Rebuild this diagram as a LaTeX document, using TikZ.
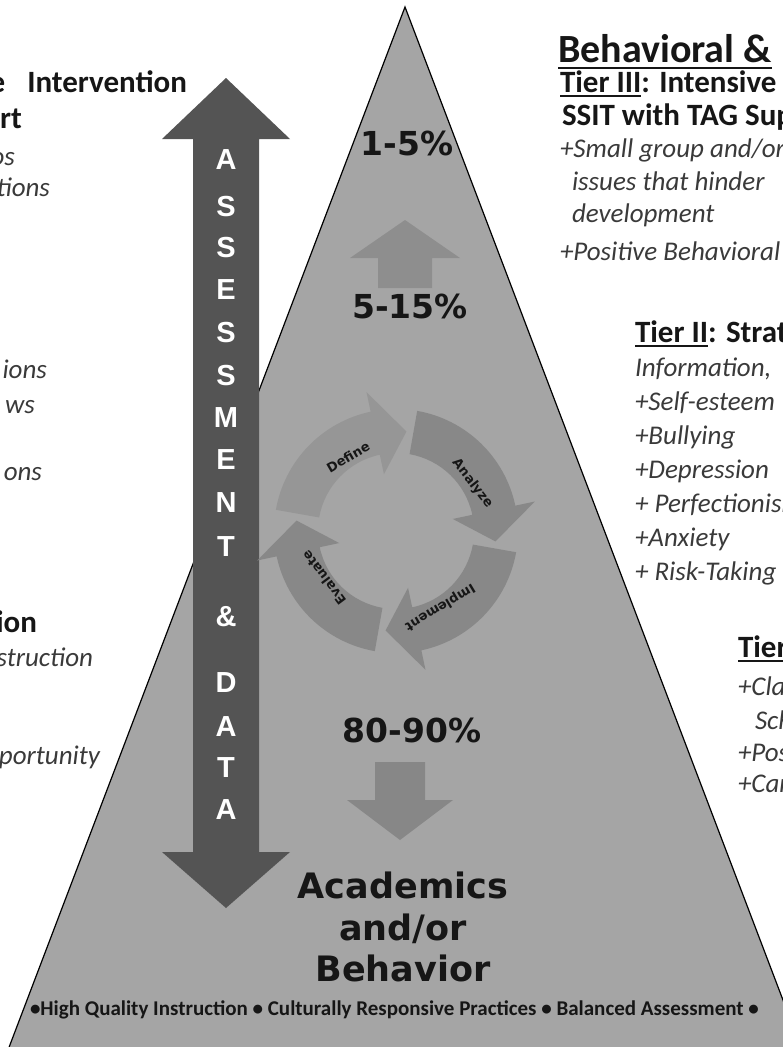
\documentclass[tikz,border=0pt]{standalone}
\usepackage{fontspec}
\setmainfont{Carlito}
\newfontfamily\dejavu{DejaVu Sans}
\newfontfamily\arialish{Liberation Sans}
\usetikzlibrary{arrows.meta}

\definecolor{pyrgray}{HTML}{A5A5A5}
\definecolor{assessgray}{HTML}{545454}
\definecolor{cyclegray}{HTML}{848484}
\definecolor{definegray}{HTML}{959595}
\definecolor{tipgray}{HTML}{8A8A8A}
\definecolor{ink}{HTML}{161616}
\definecolor{softink}{HTML}{3A3A3A}

\begin{document}
\begin{tikzpicture}[x=1pt,y=1pt,
  every node/.style={inner sep=0pt, outer sep=0pt},
  pct/.style={font=\dejavu\bfseries\fontsize{33}{36}\selectfont, text=ink},
  base/.style={font=\dejavu\bfseries\fontsize{35}{38}\selectfont, text=ink},
  letter/.style={font=\arialish\bfseries\fontsize{29}{30}\selectfont, text=white},
  cyclabel/.style={font=\dejavu\bfseries\fontsize{13}{14}\selectfont, text=ink},
  sidebold/.style={font=\bfseries\fontsize{31}{34}\selectfont, text=ink},
  sideital/.style={font=\itshape\fontsize{27}{32}\selectfont, text=softink},
  heading/.style={font=\bfseries\fontsize{40}{44}\selectfont, text=ink},
  footer/.style={font=\bfseries\fontsize{21}{24}\selectfont, text=ink},
  uline/.style={line width=1.6pt, draw=ink}
]
\useasboundingbox (0,0) rectangle (783,-1047);
\clip (0,0) rectangle (783,-1047);

% ---------- the pyramid ----------
\coordinate (apex) at (405,-7);
\coordinate (bl) at (8,-1050);
\coordinate (br) at (802,-1050);
\filldraw[fill=pyrgray, draw=black, line width=1.2pt] (apex) -- (bl) -- (br) -- cycle;

% ---------- assessment & data double arrow ----------
\fill[assessgray] (226,-78) -- (290,-139) -- (259,-139) -- (259,-852)
  -- (290,-852) -- (226,-908) -- (162,-852) -- (193,-852) -- (193,-139)
  -- (162,-139) -- cycle;
\foreach \ch/\yy [count=\i] in {A/160,S/207,S/248,E/290,S/333,S/376,M/418,E/460,N/503,T/547,\&/617,D/683,A/727,T/768,A/810}
  \node[letter] (as\i) at (226,-\yy) {\ch};

% ---------- tier percentages and the two block arrows ----------
\node[pct] (p1) at (407,-143) {1-5\%};
\node[pct] (p2) at (410,-306) {5-15\%};
\node[pct] (p3) at (412,-730) {80-90\%};

\fill[tipgray, opacity=0.85] (405,-220) -- (460,-258) -- (432,-258) -- (432,-288)
  -- (378,-288) -- (378,-258) -- (350,-258) -- cycle;
\fill[cyclegray, opacity=0.9] (375,-762) -- (425,-762) -- (425,-800) -- (453,-800)
  -- (400,-840) -- (347,-800) -- (375,-800) -- cycle;

% ---------- define / analyze / implement / evaluate cycle ----------
\begin{scope}[shift={(396,-531)}]
  % each band: outer arc, arrow head, inner arc back
  \fill[cyclegray, opacity=0.85] (80:122) arc[start angle=80, end angle=12, radius=122]
    -- (12:142) -- (-6:100) -- (12:58) -- (12:78)
    arc[start angle=12, end angle=80, radius=78] -- cycle;
  \fill[cyclegray, opacity=0.85] (-10:122) arc[start angle=-10, end angle=-78, radius=122]
    -- (-78:142) -- (-96:100) -- (-78:58) -- (-78:78)
    arc[start angle=-78, end angle=-10, radius=78] -- cycle;
  \fill[cyclegray, opacity=0.85] (-100:122) arc[start angle=-100, end angle=-168, radius=122]
    -- (-168:142) -- (-186:100) -- (-168:58) -- (-168:78)
    arc[start angle=-168, end angle=-100, radius=78] -- cycle;
  \fill[definegray, opacity=0.9] (170:122) arc[start angle=170, end angle=102, radius=122]
    -- (102:142) -- (84:100) -- (102:58) -- (102:78)
    arc[start angle=102, end angle=170, radius=78] -- cycle;

  \node[cyclabel, rotate=30] (define) at (123:88) {Define};
  \node[cyclabel, rotate=-52] (analyze) at (32:90) {Analyze};
  \node[cyclabel, rotate=211] (implement) at (-60:88) {Implement};
  \node[cyclabel, rotate=127] (evaluate) at (213:86) {Evaluate};
\end{scope}

% ---------- base of the pyramid ----------
\node[base, anchor=base] (acad) at (403,-898) {Academics};
\node[base, anchor=base] (andor) at (403,-940) {and/or};
\node[base, anchor=base] (behav) at (403,-981) {Behavior};
\node[footer, anchor=base west] (foot) at (30,-1015)
  {\textbullet High Quality Instruction \textbullet{} Culturally Responsive Practices \textbullet{} Balanced Assessment \textbullet};

% ---------- left column ----------
\node[sidebold, anchor=base east] (l1) at (187,-92) {e\hspace{22pt}Intervention};
\node[sidebold, anchor=base east] (l2) at (22,-128) {rt};
\node[sideital, anchor=base east] (l3) at (15,-165) {os};
\node[sideital, anchor=base east] (l4) at (50,-196) {tions};
\node[sideital, anchor=base east] (l5) at (47,-378) {ions};
\node[sideital, anchor=base east] (l6) at (35,-413) {ws};
\node[sideital, anchor=base east] (l7) at (42,-480) {ons};
\node[sidebold, anchor=base east] (l8) at (37,-632) {ion};
\node[sideital, anchor=base east] (l9) at (93,-666) {struction};
\node[sideital, anchor=base east] (l10) at (100,-764) {portunity};

% ---------- right column ----------
\node[heading, anchor=base west] (head) at (558,-62) {Behavioral \&};
\draw[uline] ([yshift=-6pt]head.base west) -- ([yshift=-6pt]head.base east);

\node[sidebold, anchor=base west] (t3) at (560,-92) {Tier III};
\node[sidebold, anchor=base west] (t3b) at (t3.base east) {: Intensive};
\draw[uline, line width=1.2pt] ([yshift=-4pt]t3.base west) -- ([yshift=-4pt]t3.base east);
\node[sidebold, anchor=base west] (r1) at (562,-125) {SSIT with TAG Support};
\node[sideital, anchor=base west] (r2) at (560,-157) {+Small group and/or};
\node[sideital, anchor=base west] (r3) at (572,-190) {issues that hinder};
\node[sideital, anchor=base west] (r4) at (572,-222) {development};
\node[sideital, anchor=base west] (r5) at (560,-260) {+Positive Behavioral};

\node[sidebold, anchor=base west] (t2) at (635,-342) {Tier II};
\node[sidebold, anchor=base west] (t2b) at (t2.base east) {: Strategic};
\draw[uline, line width=1.2pt] ([yshift=-4pt]t2.base west) -- ([yshift=-4pt]t2.base east);
\node[sideital, anchor=base west] (s1) at (635,-376) {Information,};
\node[sideital, anchor=base west] (s2) at (635,-410) {+Self-esteem};
\node[sideital, anchor=base west] (s3) at (635,-444) {+Bullying};
\node[sideital, anchor=base west] (s4) at (635,-478) {+Depression};
\node[sideital, anchor=base west] (s5) at (635,-512) {+ Perfectionism};
\node[sideital, anchor=base west] (s6) at (635,-546) {+Anxiety};
\node[sideital, anchor=base west] (s7) at (635,-580) {+ Risk-Taking};

\node[sidebold, anchor=base west] (t1) at (738,-657) {Tier I};
\draw[uline, line width=1.2pt] ([yshift=-4pt]t1.base west) -- ([yshift=-4pt]t1.base east);
\node[sideital, anchor=base west] (u1) at (738,-695) {+Cla};
\node[sideital, anchor=base west] (u2) at (755,-729) {Sch};
\node[sideital, anchor=base west] (u3) at (738,-761) {+Pos};
\node[sideital, anchor=base west] (u4) at (738,-792) {+Car};
\end{tikzpicture}
\end{document}
